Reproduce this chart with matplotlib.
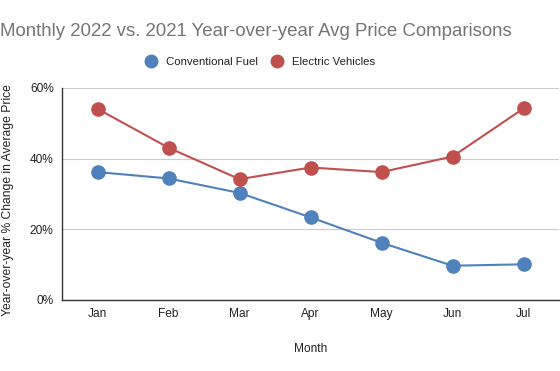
import matplotlib.pyplot as plt
from matplotlib.ticker import FuncFormatter

plt.rcParams["font.family"] = ["Liberation Sans", "DejaVu Sans"]

MONTHS = ["Jan", "Feb", "Mar", "Apr", "May", "Jun", "Jul"]
CONVENTIONAL = [36.2, 34.4, 30.3, 23.4, 16.2, 9.7, 10.1]
ELECTRIC = [54.1, 43.1, 34.2, 37.5, 36.2, 40.6, 54.2]
Y_TICKS = [0, 20, 40, 60]

BLUE = "#4f81bd"
RED = "#c0504d"


def main():
    fig = plt.figure(figsize=(5.6, 3.71), dpi=100)
    ax = fig.add_axes([62 / 560, 1 - 300 / 371, 497 / 560, 212 / 371])

    x = range(len(MONTHS))
    ax.plot(x, CONVENTIONAL, color=BLUE, linewidth=1.5, marker="o",
            markersize=9.5, label="Conventional Fuel", zorder=3)
    ax.plot(x, ELECTRIC, color=RED, linewidth=1.5, marker="o",
            markersize=9.5, label="Electric Vehicles", zorder=3)

    ax.set_xlim(-0.5, len(MONTHS) - 0.5)
    ax.set_ylim(0, 60)
    ax.set_yticks(Y_TICKS)
    ax.yaxis.set_major_formatter(FuncFormatter(lambda v, _: f"{v:.0f}%"))
    ax.set_xticks(list(x))
    ax.set_xticklabels(MONTHS)
    ax.tick_params(length=0, labelsize=8.6, colors="#222222", pad=6)
    ax.grid(axis="y", color="#cccccc", linewidth=0.8)
    ax.set_axisbelow(True)
    for side in ("top", "right"):
        ax.spines[side].set_visible(False)
    for side in ("left", "bottom"):
        ax.spines[side].set_color("#333333")
        ax.spines[side].set_linewidth(1.0)

    ax.set_xlabel("Month", fontsize=8.6, color="#222222", labelpad=16)
    ax.set_ylabel("Year-over-year % Change in Average Price", fontsize=8.7,
                  color="#222222")
    ax.yaxis.set_label_coords(-48 / 497, 0.472)

    fig.text(0.0, 1 - 32 / 371, "Monthly 2022 vs. 2021 Year-over-year Avg Price Comparisons",
             fontsize=13.4, color="#757575", ha="left", va="center")
    leg = fig.legend(loc="center", bbox_to_anchor=(261 / 560, 1 - 62 / 371), ncol=2,
                     frameon=False, fontsize=8.2, handlelength=0.8, handletextpad=0.9,
                     columnspacing=1.3, labelcolor="#222222")
    for line in leg.get_lines():
        line.set_linestyle("none")
        line.set_markersize(9)

    fig.savefig("out.png", dpi=100)
    plt.close(fig)


if __name__ == "__main__":
    main()
